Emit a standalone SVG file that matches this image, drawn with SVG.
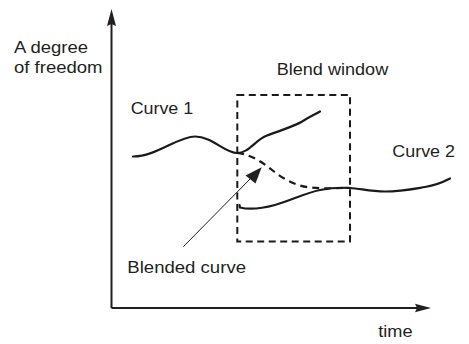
<svg xmlns="http://www.w3.org/2000/svg" width="469" height="344" viewBox="0 0 469 344">
<style>
text{font-family:"Liberation Sans",Arial,sans-serif;font-size:16px;fill:#231f20}
.ax{stroke:#231f20;stroke-width:2;fill:none}
.cv{stroke:#1a1a1a;stroke-width:2.2;fill:none;stroke-linecap:round}
.dash{stroke:#1a1a1a;stroke-width:2;fill:none;stroke-dasharray:7 4.5}
.ah{fill:#231f20}
</style>
<rect width="469" height="344" fill="#fff"/>
<g id="axes">
<path class="ax" d="M111.5,308 V22"/>
<polygon class="ah" points="111.5,9 116,26 111.5,24 107,26"/>
<path class="ax" d="M111.5,308 H418"/>
<polygon class="ah" points="431,308 415,312.2 417,308 415,303.8"/>
</g>
<g id="blend-window">
<rect class="dash" x="237.3" y="95" width="112.7" height="146.5"/>
</g>
<g id="curve1">
<path class="cv" d="M133,156.5 C155,157 178,136.5 195,136.5 S225,153 237,153 S255,140 267,135.5 S295,126 303,121 S316,114 320,111.5"/>
</g>
<g id="blended">
<path class="cv" style="stroke-dasharray:7 5;stroke-linecap:butt" d="M237,153 C250,154 262,162 272,170 S295,186 310,187.5 S330,188 345,188"/>
</g>
<g id="curve2">
<path class="cv" d="M239.5,205 L240,207.5 C248,209.5 260,209 275,205 S305,193 320,190 S340,187.5 350,188 S370,191.5 385,191.5 S410,189.5 425,187 S445,181 450,178.5"/>
</g>
<g id="connectors">
<path stroke="#231f20" stroke-width="1" fill="none" d="M183.3,246.7 L252,177"/>
<polygon class="ah" points="261.7,167.3 255.5,183.5 245.5,175.5"/>
</g>
<g id="labels">
<text x="14" y="52.5" textLength="74" lengthAdjust="spacingAndGlyphs">A degree</text>
<text x="14" y="73" textLength="88.5" lengthAdjust="spacingAndGlyphs">of freedom</text>
<text x="276.7" y="75" textLength="111.5" lengthAdjust="spacingAndGlyphs">Blend window</text>
<text x="130.7" y="114.3" textLength="62.5" lengthAdjust="spacingAndGlyphs">Curve 1</text>
<text x="392.3" y="156.7" textLength="62.7" lengthAdjust="spacingAndGlyphs">Curve 2</text>
<text x="127.3" y="273.3" textLength="118.7" lengthAdjust="spacingAndGlyphs">Blended curve</text>
<text x="378.3" y="336.7" textLength="34.3" lengthAdjust="spacingAndGlyphs">time</text>
</g>
</svg>
